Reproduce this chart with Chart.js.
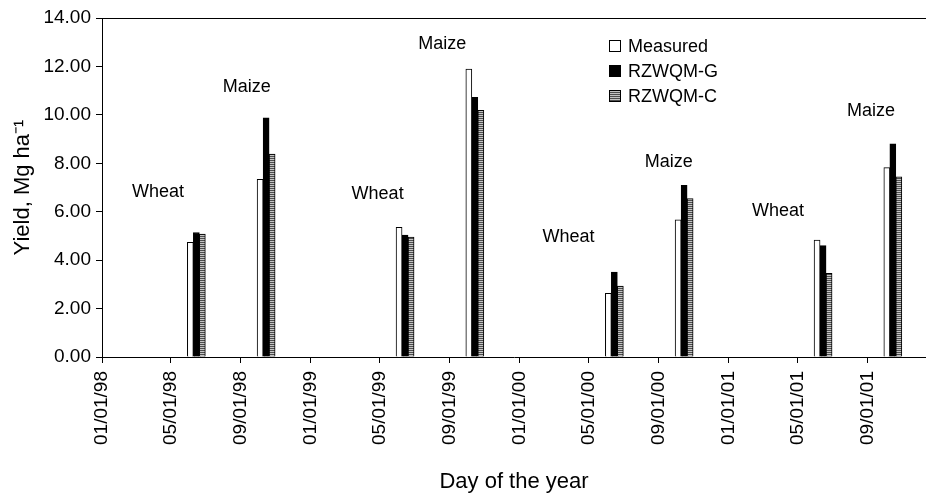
<!DOCTYPE html>
<html>
<head>
<meta charset="utf-8">
<title>Yield</title>
<script src="https://cdn.jsdelivr.net/npm/chart.js@4/dist/chart.umd.min.js"></script>
<style>
  html, body { margin: 0; padding: 0; background: #fff; }
  #wrap { width: 926px; height: 494px; }
</style>
</head>
<body>
<div id="wrap"><canvas id="yieldChart"></canvas></div>
<script>
// harvest dates (MM/DD/YY) and yields, Mg/ha
const harvestDates = ["06/15/98", "10/15/98", "06/15/99", "10/15/99", "06/15/00", "10/15/00", "06/15/01", "10/15/01"];
const crops        = ["Wheat", "Maize", "Wheat", "Maize", "Wheat", "Maize", "Wheat", "Maize"];
const measured     = [4.74, 7.34, 5.36, 11.89, 2.63, 5.66, 4.83, 7.82];
const rzwqmG       = [5.14, 9.88, 5.04, 10.72, 3.51, 7.09, 4.60, 8.80];
const rzwqmC       = [5.08, 8.38, 4.95, 10.19, 2.93, 6.54, 3.46, 7.44];

const tickLabels = ["01/01/98", "05/01/98", "09/01/98", "01/01/99", "05/01/99", "09/01/99",
                    "01/01/00", "05/01/00", "09/01/00", "01/01/01", "05/01/01", "09/01/01"];
const axisEnd = "12/12/01";

// where the crop names sit (date, yield)
const cropLabelDates  = ["04/09/98", "09/11/98", "04/28/99", "08/19/99", "03/27/00", "09/18/00", "03/28/01", "09/07/01"];
const cropLabelYields = [6.82, 11.15, 6.73, 12.93, 4.96, 8.05, 6.03, 10.16];

const FONT = "'Liberation Sans', Arial, Helvetica, sans-serif";

// days since 01/01/98
function dayOf(s) {
  const [m, d, y] = s.split("/").map(Number);
  const year = y < 50 ? 2000 + y : 1900 + y;
  return (Date.UTC(year, m - 1, d) - Date.UTC(1998, 0, 1)) / 86400000;
}

function stripes() {
  const c = document.createElement("canvas");
  c.width = 4; c.height = 2;
  const g = c.getContext("2d");
  g.fillStyle = "#c4c4c4"; g.fillRect(0, 0, 4, 2);
  g.fillStyle = "#4e4e4e"; g.fillRect(0, 0, 4, 1);
  return g.createPattern(c, "repeat");
}
const stripeFill = stripes();

const toPoints = vals => vals.map((v, i) => ({ x: dayOf(harvestDates[i]), y: v }));
const tickDays = tickLabels.map(dayOf);

const extras = {
  id: "extras",
  afterDatasetsDraw(chart) {
    const { ctx, chartArea, scales } = chart;
    ctx.save();

    // frame line along the top
    ctx.strokeStyle = "#000";
    ctx.lineWidth = 1;
    ctx.beginPath();
    ctx.moveTo(chartArea.left, chartArea.top + 0.5);
    ctx.lineTo(chartArea.right, chartArea.top + 0.5);
    ctx.stroke();

    // crop names
    ctx.fillStyle = "#000";
    ctx.font = "18px " + FONT;
    ctx.textAlign = "center";
    ctx.textBaseline = "middle";
    crops.forEach((name, i) => {
      ctx.fillText(name, scales.x.getPixelForValue(dayOf(cropLabelDates[i])),
                         scales.y.getPixelForValue(cropLabelYields[i]));
    });

    // legend
    const rows = [
      { label: "Measured", fill: "#fff", border: true },
      { label: "RZWQM-G", fill: "#000", border: false },
      { label: "RZWQM-C", fill: stripeFill, border: true }
    ];
    ctx.textAlign = "left";
    rows.forEach((r, i) => {
      const y = 46 + i * 25;
      ctx.fillStyle = r.fill;
      ctx.fillRect(609, y - 6, 12, 12);
      if (r.border) {
        ctx.strokeStyle = "#000";
        ctx.strokeRect(609.5, y - 5.5, 11, 11);
      }
      ctx.fillStyle = "#000";
      ctx.fillText(r.label, 628, y + 1);
    });
    ctx.restore();
  }
};

const common = { barThickness: 6, borderColor: "#000", borderWidth: 1, borderSkipped: "bottom" };

new Chart(document.getElementById("yieldChart"), {
  type: "bar",
  data: {
    datasets: [
      { label: "Measured", data: toPoints(measured), backgroundColor: "#fff", ...common },
      { label: "RZWQM-G",  data: toPoints(rzwqmG),  backgroundColor: "#000", ...common },
      { label: "RZWQM-C",  data: toPoints(rzwqmC),  backgroundColor: stripeFill, ...common }
    ]
  },
  options: {
    responsive: true,
    maintainAspectRatio: false,
    animation: false,
    layout: { padding: { top: 18, right: 0, left: 0, bottom: 0 } },
    plugins: { legend: { display: false }, tooltip: { enabled: false } },
    scales: {
      x: {
        type: "linear",
        min: 0,
        max: dayOf(axisEnd),
        offset: false,
        afterBuildTicks: s => { s.ticks = tickDays.map(v => ({ value: v })); },
        afterFit: s => { s.height = 137; },
        grid: { display: true, offset: false, drawOnChartArea: false, drawTicks: true, tickLength: 6, color: "#000" },
        border: { color: "#000", width: 1 },
        ticks: {
          autoSkip: false,
          maxRotation: 90,
          minRotation: 90,
          padding: 8,
          color: "#000",
          font: { family: FONT, size: 19 },
          callback: v => tickLabels[tickDays.indexOf(v)] || ""
        },
        title: {
          display: true,
          text: "Day of the year",
          color: "#000",
          font: { family: FONT, size: 22 },
          padding: { top: 0, bottom: -1 }
        }
      },
      y: {
        min: 0,
        max: 14,
        afterFit: s => { s.width = 102; },
        grid: { display: true, drawOnChartArea: false, drawTicks: true, tickLength: 6, color: "#000" },
        border: { color: "#000", width: 1 },
        ticks: {
          stepSize: 2,
          padding: 5,
          color: "#000",
          font: { family: FONT, size: 19 },
          callback: v => v.toFixed(2)
        },
        title: {
          display: true,
          text: "Yield, Mg ha\u207B\u00B9",
          color: "#000",
          font: { family: FONT, size: 22 },
          padding: { top: 10, bottom: 0 }
        }
      }
    }
  },
  plugins: [extras]
});
</script>
</body>
</html>
